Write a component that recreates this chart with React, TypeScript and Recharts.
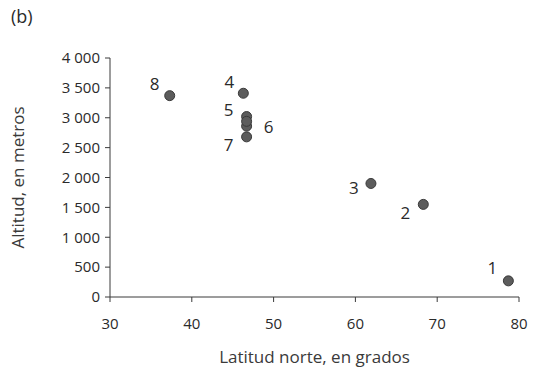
import React from 'react';
import { ScatterChart, Scatter, XAxis, YAxis, LabelList, Label } from 'recharts';

const ids = ['1', '2', '3', '4', '5', '6', '7', '8', '9'];
const latitudes = [78.7, 68.3, 61.9, 46.3, 46.7, 46.7, 46.7, 37.3, 46.7];
const altitudes = [270, 1550, 1900, 3410, 3020, 2860, 2680, 3370, 2940];
const labels = ['1', '2', '3', '4', '5', '6', '7', '8', ''];
const xTicks = [30, 40, 50, 60, 70, 80];
const yTicks = [0, 500, 1000, 1500, 2000, 2500, 3000, 3500, 4000];

const data = ids.map((id, i) => ({ id, lat: latitudes[i], alt: altitudes[i], label: labels[i] }));

const labelOffsets: Record<string, [number, number]> = {
  '1': [-16, -13],
  '2': [-18, 8],
  '3': [-17, 4],
  '4': [-14, -12],
  '5': [-18, -7],
  '6': [22, 0],
  '7': [-18, 8],
  '8': [-15, -12],
};

const font = '"Open Sans", "Noto Sans", sans-serif';

const fmt = (v: number) => {
  if (v >= 1000) {
    const th = Math.floor(v / 1000);
    const rest = String(v % 1000).padStart(3, '0');
    return `${th} ${rest}`;
  }
  return String(v);
};

const PointLabel = (props: any) => {
  const { x, y, width, height, value } = props;
  if (!value) return null;
  const cx = x + width / 2;
  const cy = y + height / 2;
  const [dx, dy] = labelOffsets[value] || [0, 0];
  return (
    <text x={cx + dx} y={cy + dy} textAnchor="middle" dominantBaseline="central" fontSize={17} fill="#2a2a2a" fontFamily={font}>
      {value}
    </text>
  );
};

const Dot = (props: any) => {
  const { cx, cy } = props;
  return <circle cx={cx} cy={cy} r={5} fill="#5c5c5c" stroke="#3a3a3a" strokeWidth={1} />;
};

export default function App() {
  return (
    <div style={{ position: 'absolute', left: 0, top: 0, width: 541, height: 368, background: '#fff' }}>
      <div style={{ position: 'absolute', left: 11, top: 4, fontFamily: font, fontSize: 18, color: '#2a2a2a' }}>(b)</div>
      <ScatterChart width={541} height={368} margin={{ top: 58, right: 22, bottom: 0, left: 0 }}>
        <XAxis
          type="number"
          dataKey="lat"
          domain={[30, 80]}
          ticks={xTicks}
          interval={0}
          height={71}
          stroke="#3a3a3a"
          tickSize={5}
          tickMargin={16}
          tick={{ fill: '#2a2a2a', fontSize: 15, fontFamily: font }}
        >
          <Label value="Latitud norte, en grados" position="insideBottom" offset={5} style={{ fill: '#3a3a3a', fontSize: 17, fontFamily: font }} />
        </XAxis>
        <YAxis
          type="number"
          dataKey="alt"
          domain={[0, 4000]}
          ticks={yTicks}
          interval={0}
          width={110}
          stroke="#3a3a3a"
          tickSize={5}
          tickMargin={5}
          tickFormatter={fmt}
          tick={{ fill: '#2a2a2a', fontSize: 15, fontFamily: font }}
        >
          <Label value="Altitud, en metros" angle={-90} position="insideLeft" offset={18} style={{ textAnchor: 'middle', fill: '#3a3a3a', fontSize: 17, fontFamily: font }} />
        </YAxis>
        <Scatter data={data} shape={<Dot />} isAnimationActive={false}>
          <LabelList dataKey="label" content={<PointLabel />} />
        </Scatter>
      </ScatterChart>
    </div>
  );
}
